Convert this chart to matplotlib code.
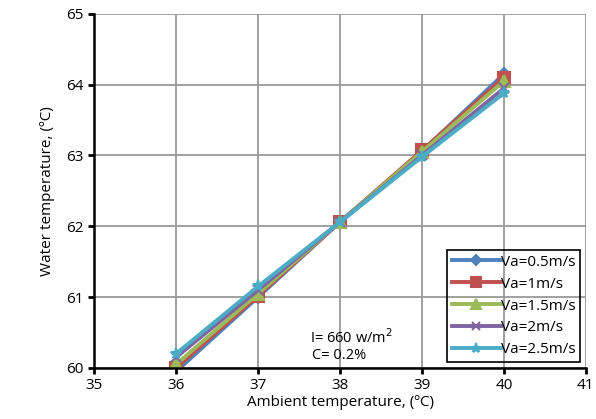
import matplotlib
matplotlib.use("Agg")
import matplotlib.pyplot as plt

# ambient temperature (x) and water temperature for each air speed
ambiente = [36, 37, 38, 39, 40]
agua_05 = [59.95, 61.00, 62.06, 63.06, 64.15]
agua_1 = [60.00, 61.02, 62.06, 63.07, 64.10]
agua_15 = [60.05, 61.05, 62.06, 63.05, 64.05]
agua_2 = [60.15, 61.10, 62.06, 63.00, 63.95]
agua_25 = [60.20, 61.15, 62.06, 62.98, 63.88]

etiquetas = ["Va=0.5m/s", "Va=1m/s", "Va=1.5m/s", "Va=2m/s", "Va=2.5m/s"]
colores = ["#4F81BD", "#C0504D", "#9BBB59", "#8064A2", "#4BACC6"]
marcadores = ["D", "s", "^", "x", "*"]
tamanos = [6, 8, 8, 7, 8]

plt.rcParams["font.family"] = ["Open Sans", "DejaVu Sans"]

fig = plt.figure(figsize=(5.96, 4.19), dpi=100)
ax = fig.add_axes([0.158, 0.122, 0.825, 0.845])

series = [agua_05, agua_1, agua_15, agua_2, agua_25]
for datos, etiqueta, color, m, t in zip(series, etiquetas, colores, marcadores, tamanos):
    ax.plot(ambiente, datos, color=color, lw=2.8, marker=m, markersize=t,
            markeredgewidth=1.5, label=etiqueta)

ax.set_xlim(35, 41)
ax.set_ylim(60, 65)
ax.set_xticks(range(35, 42))
ax.set_yticks(range(60, 66))
ax.grid(True, color="#999999", lw=1.3)
ax.set_axisbelow(True)
for lado in ["top", "right"]:
    ax.spines[lado].set_visible(False)
for lado in ["left", "bottom"]:
    ax.spines[lado].set_linewidth(1.8)
ax.tick_params(axis="x", direction="out", length=4, width=2, labelsize=11)
ax.tick_params(axis="y", direction="out", length=4, width=2, labelsize=11)

ax.set_xlabel("Ambient temperature, (ºC)", fontsize=11, labelpad=1)
ax.set_ylabel("Water temperature, (ºC)", fontsize=11, labelpad=8)

ax.text(37.63, 60.42, "I= 660 w/m$^2$", fontsize=10.5, va="center")
ax.text(37.66, 60.17, "C= 0.2%", fontsize=10.5, va="center")

leg = ax.legend(loc="lower right", bbox_to_anchor=(0.988, 0.017), borderaxespad=0,
                fontsize=11, frameon=True, fancybox=False, edgecolor="black",
                facecolor="none", framealpha=1, handlelength=3.2, borderpad=0.3,
                labelspacing=0.45, handletextpad=0.0, markerscale=0.85)
leg.get_frame().set_linewidth(1.2)

fig.savefig("out.png", dpi=100)
